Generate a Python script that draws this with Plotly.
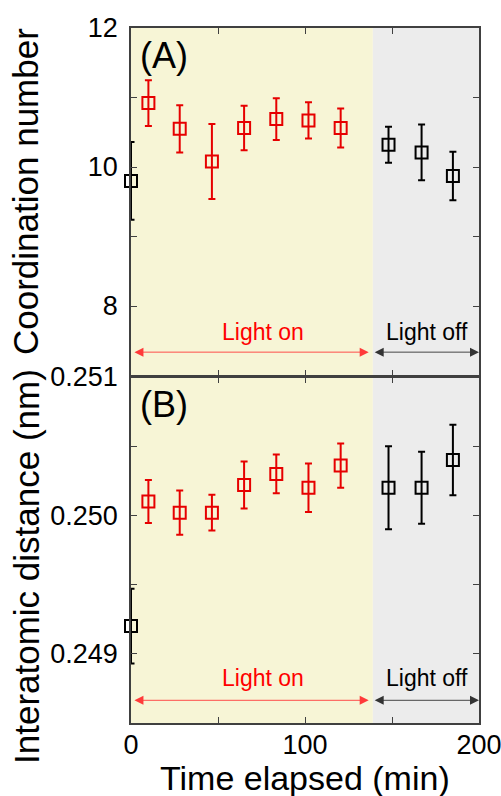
import plotly.graph_objects as go

# Elapsed time of each measurement (min)
time_min = [0, 10, 28, 46.5, 65, 83.5, 102, 120.5, 148, 167, 185]
# True while the sample is illuminated
light_on = [False, True, True, True, True, True, True, True, False, False, False]

# (A) coordination number with error
coord = [9.80, 10.92, 10.55, 10.08, 10.56, 10.69, 10.67, 10.56, 10.32, 10.21, 9.87]
coord_err = [0.56, 0.33, 0.34, 0.54, 0.32, 0.30, 0.26, 0.28, 0.26, 0.40, 0.35]

# (B) interatomic distance (nm) with error
dist = [0.24920, 0.25010, 0.25002, 0.25002, 0.25022, 0.25030, 0.25020, 0.25036,
        0.25020, 0.25020, 0.25040]
dist_err = [0.00027, 0.000155, 0.00016, 0.00013, 0.00017, 0.00014, 0.000175,
            0.00016, 0.00030, 0.00026, 0.000255]

light_switch_off = 139  # min
x_range = [0, 200]
x_ticks = [0, 50, 100, 150, 200]
x_ticktext = ["0", "", "100", "", "200"]
y1_ticks = [7, 8, 9, 10, 11, 12]
y1_ticktext = ["", "8", "", "10", "", "12"]
y2_ticks = [0.2485, 0.249, 0.2495, 0.250, 0.2505, 0.251]
y2_ticktext = ["", "0.249", "", "0.250", "", "0.251"]

FONT = "Liberation Sans, Arial, Helvetica, sans-serif"
RED = "#e60000"
BLACK = "#000000"
YELLOW_BG = "#f7f5d6"
GRAY_BG = "#ececec"
FRAME = "#404040"

W, H = 501, 796
M_L, M_R, M_T, M_B = 131, 22, 28, 73
PLOT_W = W - M_L - M_R
PLOT_H = H - M_T - M_B
LINE_W = 1.5
# shift the lower panel so that the shared border is drawn as one line
GAP = LINE_W / PLOT_H


def px_to_paper_x(px):
    return (px - M_L) / PLOT_W


def px_to_paper_y(py):
    return (H - M_B - py) / PLOT_H


fig = go.Figure()


def add_series(values, errors, xaxis, yaxis):
    # split into contiguous runs of equal illumination state
    runs = []
    for i, state in enumerate(light_on):
        if runs and runs[-1][0] == state:
            runs[-1][1].append(i)
        else:
            runs.append((state, [i]))
    for state, idx in runs:
        color = RED if state else BLACK
        fig.add_trace(go.Scatter(
            x=[time_min[i] for i in idx],
            y=[values[i] for i in idx],
            error_y=dict(type="data", array=[errors[i] for i in idx],
                         color=color, thickness=2, width=3.5),
            mode="markers",
            marker=dict(symbol="square-open", size=12, color=color,
                        line=dict(width=2, color=color)),
            xaxis=xaxis, yaxis=yaxis, cliponaxis=False, showlegend=False,
        ))


add_series(coord, coord_err, "x", "y")
add_series(dist, dist_err, "x2", "y2")

axis_common = dict(
    showline=True, linecolor=FRAME, linewidth=LINE_W, mirror="allticks",
    ticks="inside", ticklen=6, tickwidth=1.2, tickcolor=FRAME,
    showgrid=False, zeroline=False, automargin=False,
    ticklabeloverflow="allow",
    tickfont=dict(family=FONT, size=27, color="black"),
)

fig.update_layout(
    width=W, height=H,
    margin=dict(l=M_L, r=M_R, t=M_T, b=M_B, autoexpand=False),
    paper_bgcolor="white", plot_bgcolor="white",
    font=dict(family=FONT, color="black"),
    xaxis=dict(domain=[0, 1], anchor="y", range=x_range, tickvals=x_ticks,
               showticklabels=False, **axis_common),
    yaxis=dict(domain=[0.5, 1], anchor="x", range=[7, 12], tickvals=y1_ticks,
               ticktext=y1_ticktext, ticklabelstandoff=6, **axis_common),
    xaxis2=dict(domain=[0, 1], anchor="y2", range=x_range, tickvals=x_ticks,
                ticktext=x_ticktext, ticklabelstandoff=-3, **axis_common),
    yaxis2=dict(domain=[0, 0.5 - GAP], anchor="x2", range=[0.2485, 0.251],
                tickvals=y2_ticks, ticktext=y2_ticktext, ticklabelstandoff=6,
                **axis_common),
)

# shaded illumination periods in both panels
for xr, yr in (("x", "y domain"), ("x2", "y2 domain")):
    fig.add_shape(type="rect", xref=xr, yref=yr, x0=0, x1=light_switch_off,
                  y0=0, y1=1, fillcolor=YELLOW_BG, line_width=0, layer="below")
    fig.add_shape(type="rect", xref=xr, yref=yr, x0=light_switch_off, x1=200,
                  y0=0, y1=1, fillcolor=GRAY_BG, line_width=0, layer="below")

# period arrows and labels
arrow_rows = [("x", "y", 7.336, 7.625), ("x2", "y2", 0.248664, 0.248826)]
for xr, yr, y_arrow, y_text in arrow_rows:
    for x0, x1, line_col, label, x_lab, col in (
        (1.1, 136.6, "#ff3a3a", "Light on", 75.6, "#ff0000"),
        (139.2, 200, "#333333", "Light off", 170.3, BLACK),
    ):
        fig.add_annotation(
            x=x1, y=y_arrow, ax=x0, ay=y_arrow, xref=xr, yref=yr,
            axref=xr, ayref=yr, text="", showarrow=True,
            arrowside="end+start", arrowhead=2, startarrowhead=2,
            arrowsize=2, startarrowsize=2, arrowwidth=0.9,
            arrowcolor=line_col,
        )
        fig.add_annotation(
            x=x_lab, y=y_text, xref=xr, yref=yr, text=label, showarrow=False,
            font=dict(family=FONT, size=23, color=col),
        )

# panel tags
for tag, xr, yr in (("(A)", "x", "y domain"), ("(B)", "x2", "y2 domain")):
    fig.add_annotation(
        x=4, y=0.985, xref=xr, yref=yr,
        text=tag, showarrow=False, xanchor="left", yanchor="top",
        font=dict(family=FONT, size=36, color="black"),
    )

# axis titles
fig.add_annotation(
    x=px_to_paper_x(26), y=px_to_paper_y(192), xref="paper", yref="paper",
    xanchor="center", yanchor="middle",
    text="Coordination number", showarrow=False, textangle=-90,
    font=dict(family=FONT, size=35),
)
fig.add_annotation(
    x=px_to_paper_x(26), y=px_to_paper_y(567), xref="paper", yref="paper",
    xanchor="center", yanchor="middle",
    text="Interatomic distance (nm)", showarrow=False, textangle=-90,
    font=dict(family=FONT, size=35),
)
fig.add_annotation(
    x=0.5, y=0, xref="paper", yref="paper", text="Time elapsed (min)",
    showarrow=False, yanchor="top", yshift=-34,
    font=dict(family=FONT, size=34),
)

fig.write_html("out.html")
